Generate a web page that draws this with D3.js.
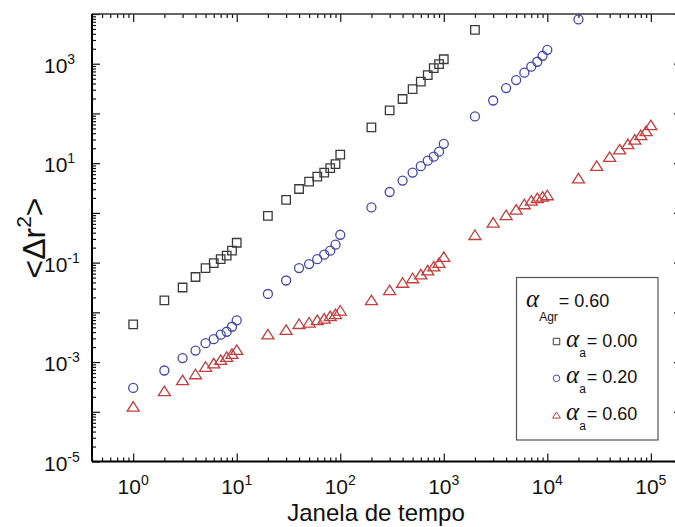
<!DOCTYPE html>
<html>
<head>
<meta charset="utf-8">
<script src="https://cdn.jsdelivr.net/npm/d3@7"></script>
<style>
  html, body { margin: 0; padding: 0; background: #fff; }
  svg { display: block; font-family: "Liberation Sans", Arial, sans-serif; }
</style>
</head>
<body>
<svg id="chart" width="675" height="527"></svg>
<script>
// ---- data ----
const times = [1,2,3,4,5,6,7,8,9,10,
  20,30,40,50,60,70,80,90,100,
  200,300,400,500,600,700,800,900,1000,
  2000,3000,4000,5000,6000,7000,8000,9000,10000,
  20000,30000,40000,50000,60000,70000,80000,90000,100000];

const msdA000 = [0.00575,0.0174,0.0316,0.0513,0.0776,0.0977,0.1175,0.138,0.174,0.251,
  0.871,1.82,3.02,4.27,5.37,6.46,7.94,9.55,14.8,
  52.5,115,195,309,437,589,813,977,1230,
  4790];

const msdA020 = [0.000302,0.000676,0.0012,0.0017,0.0024,0.00288,0.00355,0.00407,0.00513,0.00692,
  0.0234,0.0437,0.0776,0.0933,0.1175,0.1445,0.174,0.229,0.363,
  1.29,2.63,4.47,6.46,8.71,11.2,13.5,17.0,24.5,
  87.1,182,324,468,661,871,1096,1445,1905,
  7762];

const msdA060 = [0.000129,0.000263,0.000437,0.000575,0.000813,0.000955,0.00112,0.00129,0.00148,0.00178,
  0.00363,0.00447,0.00589,0.00631,0.00708,0.00759,0.00851,0.00933,0.011,
  0.0178,0.0282,0.0398,0.049,0.0589,0.0708,0.0851,0.1,0.132,
  0.363,0.646,0.912,1.175,1.51,1.78,2.0,2.14,2.29,
  5.01,8.91,13.5,19.1,24.5,30.2,37.2,44.7,58.9];

const xTickExps = [0,1,2,3,4,5];
const yTickExps = [-5,-3,-1,1,3];
const seriesNames = ["0.00","0.20","0.60"];
const legendTitleValue = "0.60";
const xLabel = "Janela de tempo";

// ---- layout ----
const svg = d3.select("#chart");
const X0 = 92, X1 = 682, Y0 = 461.5, Y1 = 14;
const x = d3.scaleLog().domain([0.4, 2e5]).range([X0, X1]);
const y = d3.scaleLog().domain([1e-5, 1e4]).range([Y0, Y1]);

function majors(lo, hi){ const a=[]; for(let e=lo;e<=hi;e++) a.push(Math.pow(10,e)); return a; }
function minors(lo, hi, dom){ const a=[]; for(let e=lo;e<=hi;e++) for(let k=2;k<=9;k++){ const v=k*Math.pow(10,e); if(v>=dom[0]&&v<=dom[1]) a.push(v);} return a; }
const xMaj = majors(0,5), xMin = minors(-1,5,x.domain());
const yMaj = majors(-5,4), yMin = minors(-5,3,y.domain());

function drawAxis(axisFn, scale, vals, size, tx, ty){
  const g = svg.append("g").attr("transform",`translate(${tx},${ty})`)
    .call(axisFn(scale).tickValues(vals).tickSize(size).tickFormat(""));
  g.select(".domain").remove();
  g.selectAll(".tick line").attr("stroke","#111").attr("stroke-width",1.2);
  return g;
}
drawAxis(d3.axisBottom, x, xMaj, -8, 0, Y0);
drawAxis(d3.axisBottom, x, xMin, -4, 0, Y0);
drawAxis(d3.axisTop, x, xMaj, -8, 0, Y1);
drawAxis(d3.axisTop, x, xMin, -4, 0, Y1);
drawAxis(d3.axisLeft, y, yMaj, -8, X0, 0);
drawAxis(d3.axisLeft, y, yMin, -4, X0, 0);
drawAxis(d3.axisRight, y, yMaj, -8, X1, 0);
drawAxis(d3.axisRight, y, yMin, -4, X1, 0);

svg.append("line").attr("x1",X0).attr("x2",X1).attr("y1",Y0).attr("y2",Y0).attr("stroke","#000").attr("stroke-width",2);
svg.append("line").attr("x1",X0).attr("x2",X1).attr("y1",Y1).attr("y2",Y1).attr("stroke","#333").attr("stroke-width",1.5);
svg.append("line").attr("x1",X0).attr("x2",X0).attr("y1",Y1).attr("y2",Y0).attr("stroke","#000").attr("stroke-width",2);
svg.append("line").attr("x1",X1).attr("x2",X1).attr("y1",Y1).attr("y2",Y0).attr("stroke","#000").attr("stroke-width",2);

// tick labels
const tickFont = 21, expFont = 14;
xTickExps.forEach(e => {
  const t = svg.append("text").attr("x", x(Math.pow(10,e))).attr("y", 494)
    .attr("text-anchor","middle").attr("font-size",tickFont).attr("fill","#111");
  t.append("tspan").text("10");
  t.append("tspan").attr("font-size",expFont).attr("dy",-9).text(String(e));
});
yTickExps.forEach(e => {
  const t = svg.append("text").attr("x", 44).attr("y", y(Math.pow(10,e)) + 9)
    .attr("text-anchor","start").attr("font-size",tickFont).attr("fill","#111");
  t.append("tspan").text("10");
  t.append("tspan").attr("font-size",expFont).attr("dy",-9).text(String(e));
});

// axis titles
svg.append("text").attr("x", 376).attr("y", 521)
  .attr("text-anchor","middle").attr("font-size",24).attr("fill","#111").text(xLabel);
const yl = svg.append("text").attr("transform","translate(45,238) rotate(-90)")
  .attr("text-anchor","middle").attr("font-size",32).attr("fill","#111");
yl.append("tspan").text("<Δr");
yl.append("tspan").attr("font-size",21).attr("dy",-14).text("2");
yl.append("tspan").attr("dy",14).text(">");

// markers
const colors = ["#3a3a3a", "#4646a8", "#c43c3c"];
function markerPath(type, s){
  if(type===0){ const h=s/2; return `M${-h},${-h}H${h}V${h}H${-h}Z`; }
  if(type===1){ const r=s/2; return `M${r},0A${r},${r} 0 1,1 ${-r},0A${r},${r} 0 1,1 ${r},0Z`; }
  const w=s*1.2/2, hh=s*0.95/2; return `M0,${-hh}L${w},${hh}L${-w},${hh}Z`;
}
const allSeries = [msdA000, msdA020, msdA060];
const sizes = [8.5, 9, 10];
allSeries.forEach((vals, si) => {
  svg.append("g").selectAll("path").data(vals).join("path")
    .attr("transform",(d,i)=>`translate(${x(times[i])},${y(d)})`)
    .attr("d", markerPath(si, sizes[si]))
    .attr("fill","none").attr("stroke",colors[si]).attr("stroke-width",1.3);
});

// legend
const lg = svg.append("g");
lg.append("rect").attr("x",516.5).attr("y",277.5).attr("width",141.5).attr("height",162.5)
  .attr("fill","#fff").attr("stroke","#555").attr("stroke-width",1.2);
const alphaFont = '"Liberation Serif", "Times New Roman", serif';
const t0 = lg.append("text").attr("x",526).attr("y",306.5).attr("font-size",18).attr("fill","#111");
t0.append("tspan").attr("font-family",alphaFont).attr("font-style","italic").attr("font-size",25).text("α");
t0.append("tspan").attr("font-size",12).attr("dy",14).attr("dx",0).text("Agr");
t0.append("tspan").attr("dy",-14).attr("dx",1).text("= " + legendTitleValue);
const rowY = [346.5, 383.3, 420];
seriesNames.forEach((nm, i) => {
  lg.append("path").attr("transform",`translate(556.5,${rowY[i]-5})`)
    .attr("d", markerPath(i, 6.5)).attr("fill","none").attr("stroke",colors[i]).attr("stroke-width",1);
  const t = lg.append("text").attr("x",566).attr("y",rowY[i]).attr("font-size",18).attr("fill","#111");
  t.append("tspan").attr("font-family",alphaFont).attr("font-style","italic").attr("font-size",25).text("α");
  t.append("tspan").attr("font-size",12).attr("dy",10).attr("dx",0).text("a");
  t.append("tspan").attr("dy",-10).attr("dx",1).text("= " + nm);
});
</script>
</body>
</html>
